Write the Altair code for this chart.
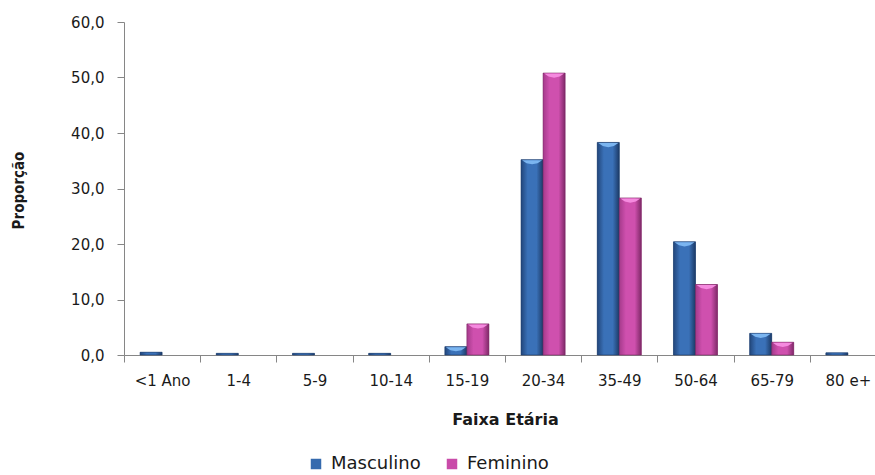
import altair as alt
import pandas as pd

# Age groups and share of cases (%) by sex
faixas = ["<1 Ano", "1-4", "5-9", "10-14", "15-19", "20-34", "35-49", "50-64", "65-79", "80 e+"]
masculino = [0.5, 0.3, 0.3, 0.3, 1.5, 35.2, 38.3, 20.4, 3.9, 0.4]
feminino = [0.0, 0.0, 0.0, 0.0, 5.6, 50.8, 28.3, 12.7, 2.3, 0.0]
series = ["Masculino", "Feminino"]
cores = ["#356AAE", "#C94BA9"]
y_ticks = [0, 10, 20, 30, 40, 50, 60]

rows = []
for i, f in enumerate(faixas):
    rows.append({"faixa": f, "sexo": "Masculino", "valor": masculino[i]})
    rows.append({"faixa": f, "sexo": "Feminino", "valor": feminino[i]})
df = pd.DataFrame(rows)

AXIS_GREY = "#868686"
FONT = "DejaVu Sans"


def gradient(edge_l, mid, edge_r):
    return {
        "gradient": "linear", "x1": 0, "y1": 0, "x2": 1, "y2": 0,
        "stops": [
            {"offset": 0.0, "color": edge_l},
            {"offset": 0.3, "color": mid},
            {"offset": 0.7, "color": mid},
            {"offset": 1.0, "color": edge_r},
        ],
    }


x_enc = alt.X(
    "faixa:N",
    sort=faixas,
    scale=alt.Scale(domain=faixas, range=[0, 762], paddingInner=0, paddingOuter=0),
    axis=alt.Axis(
        title="Faixa Etária",
        labelAngle=0,
        labelFont=FONT,
        labelFontSize=15,
        labelColor="#1a1a1a",
        labelPadding=11,
        tickBand="extent",
        tickSize=7,
        tickColor=AXIS_GREY,
        domainColor=AXIS_GREY,
        titleFont=FONT,
        titleFontSize=16,
        titleFontWeight="bold",
        titleColor="#1a1a1a",
        titleX=381,
        titleY=56,
        titleAnchor="middle",
        titleAlign="center",
        titleBaseline="top",
    ),
)

y_enc = alt.Y(
    "valor:Q",
    scale=alt.Scale(domain=[0, 60], nice=False),
    axis=alt.Axis(
        title="Proporção",
        values=y_ticks,
        labelExpr="replace(format(datum.value, '.1f'), '.', ',')",
        labelFont=FONT,
        labelFontSize=15,
        labelColor="#1a1a1a",
        labelPadding=13,
        tickSize=7,
        tickColor=AXIS_GREY,
        domainColor=AXIS_GREY,
        grid=False,
        titleFont="Liberation Sans Narrow, DejaVu Sans Condensed, sans-serif",
        titleFontSize=15,
        titleFontWeight="bold",
        titleColor="#1a1a1a",
        titleX=-106,
        titleY=168,
        titleAlign="center",
        titleBaseline="middle",
        titleAngle=270,
    ),
)

xoff = alt.XOffset(
    "sexo:N",
    sort=series,
    scale=alt.Scale(domain=series, paddingInner=0, paddingOuter=0.73),
)

base = alt.Chart(df).encode(x=x_enc, y=y_enc, xOffset=xoff)

# Solid bars carry the legend
solid = base.mark_bar().encode(
    color=alt.Color(
        "sexo:N",
        sort=series,
        scale=alt.Scale(domain=series, range=cores),
        legend=alt.Legend(
            title=None,
            orient="none",
            direction="horizontal",
            legendX=183,
            legendY=433,
            symbolType="square",
            symbolSize=110,
            symbolStrokeWidth=0,
            labelFont=FONT,
            labelFontSize=18,
            labelColor="#1a1a1a",
            columnPadding=22,
            labelOffset=6,
        ),
    )
)

# Shaded bars drawn on top, one layer per sex
nonzero = base.transform_filter(alt.datum.valor > 0)
masc_bars = nonzero.transform_filter(alt.datum.sexo == "Masculino").mark_bar(
    fill=gradient("#22467b", "#3a71b8", "#1c3a66"),
    stroke="#1d3b68", strokeWidth=0.6,
)
fem_bars = nonzero.transform_filter(alt.datum.sexo == "Feminino").mark_bar(
    fill=gradient("#a53a8b", "#cf50ae", "#7f2968"),
    stroke="#7a2863", strokeWidth=0.6,
)

# Light bevel on the top of each bar
bevel_shape = "M -1 0 L 1 0 L 0.55 0.3 L 0 0.42 L -0.55 0.3 Z"
tall = base.transform_filter(alt.datum.valor >= 1)
masc_cap = tall.transform_filter(alt.datum.sexo == "Masculino").mark_point(
    shape=bevel_shape, filled=True, size=400, color="#7bb5f0", opacity=1, yOffset=0.5,
)
fem_cap = tall.transform_filter(alt.datum.sexo == "Feminino").mark_point(
    shape=bevel_shape, filled=True, size=400, color="#f58adf", opacity=1, yOffset=0.5,
)

chart = (
    alt.layer(solid, masc_bars, fem_bars, masc_cap, fem_cap)
    .properties(
        width=751,
        height=333,
        autosize="none",
        padding={"left": 124, "top": 22, "right": 0, "bottom": 120},
        background="white",
    )
    .configure_view(stroke=None)
)

chart.save("out.html", embed_options={"renderer": "svg", "actions": False})
